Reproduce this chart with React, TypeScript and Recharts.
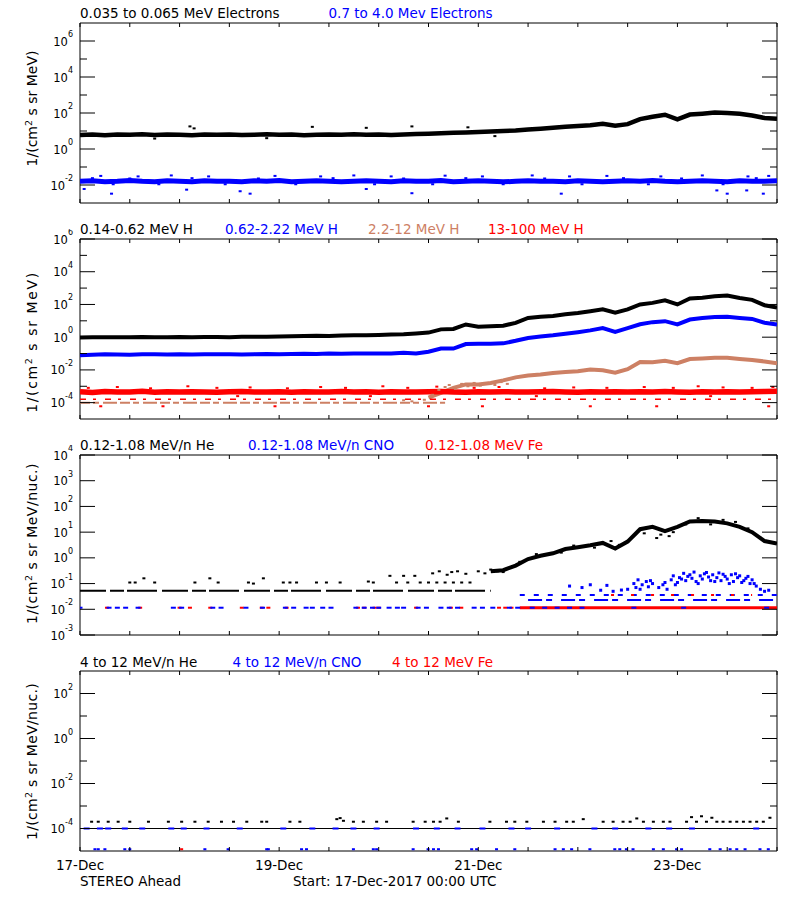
import React from 'react';
import { ComposedChart, Line, Scatter, XAxis, YAxis, ReferenceArea } from 'recharts';

const FONT = '"DejaVu Sans", sans-serif';
const BLUE = '#0000ff';
const RED = '#ff0000';
const BROWN = '#cd8064';

// hours since 17-Dec-2017 00:00 UTC, 3 h grid
const HOURS = [0, 3, 6, 9, 12, 15, 18, 21, 24, 27, 30, 33, 36, 39, 42, 45, 48, 51, 54, 57, 60, 63, 66, 69, 72, 75, 78, 81, 84, 87, 90, 93, 96, 99, 102, 105, 108, 111, 114, 117, 120, 123, 126, 129, 132, 135, 138, 141, 144, 147, 150, 153, 156, 159, 162, 165, 168];
const X_TICKS = [0, 12, 24, 36, 48, 60, 72, 84, 96, 108, 120, 132, 144, 156, 168];
const DATE_TICKS = [0, 48, 96, 144];
const DATE_LABELS = ['17-Dec', '19-Dec', '21-Dec', '23-Dec'];

// panel 1: electrons
const E_LOW = [6.0, 6.4, 5.9, 6.3, 6.1, 6.5, 6.0, 6.3, 6.2, 5.9, 6.4, 6.1, 6.3, 6.0, 6.2, 6.5, 6.1, 6.3, 5.9, 6.2, 6.4, 6.1, 6.5, 6.2, 6.3, 6.0, 6.4, 6.8, 7.1, 7.4, 7.9, 8.3, 8.8, 9.3, 10, 10.7, 12.2, 13.5, 15, 17, 19, 21, 25, 19.5, 24, 46, 62, 80, 45, 82, 92, 105, 100, 90, 72, 53, 48];
const E_LOW_DOTS = [[26.5, 18], [27.5, 14], [56, 17], [69, 15], [80, 18], [93.5, 16], [18, 3.8], [45, 4], [100, 5.2]];
const E_HIGH = [0.016, 0.017, 0.015, 0.016, 0.018, 0.016, 0.015, 0.017, 0.016, 0.015, 0.017, 0.016, 0.016, 0.015, 0.017, 0.016, 0.018, 0.015, 0.016, 0.017, 0.016, 0.015, 0.016, 0.017, 0.016, 0.015, 0.017, 0.016, 0.016, 0.018, 0.015, 0.016, 0.017, 0.016, 0.015, 0.016, 0.017, 0.016, 0.016, 0.015, 0.017, 0.016, 0.015, 0.016, 0.017, 0.016, 0.018, 0.016, 0.015, 0.016, 0.017, 0.016, 0.015, 0.017, 0.016, 0.016, 0.017];
const E_HIGH_DOTS = [[1, 0.006], [5, 0.032], [7.6, 0.0033], [14, 0.03], [22, 0.034], [25.7, 0.0055], [31, 0.03], [38.6, 0.0045], [41, 0.0033], [47, 0.032], [58, 0.03], [66, 0.034], [69, 0.006], [75, 0.03], [80, 0.0035], [88, 0.033], [97, 0.03], [109, 0.034], [116, 0.0033], [118, 0.03], [127, 0.032], [140, 0.03], [150, 0.034], [153.5, 0.005], [156, 0.0033], [160.7, 0.005], [161, 0.03], [164.7, 0.0033], [166, 0.032],
  [3, 0.024], [8, 0.011], [12, 0.023], [19, 0.011], [27, 0.024], [35, 0.011], [43, 0.023], [52, 0.011], [61, 0.024], [71, 0.011], [78, 0.023], [85, 0.011], [93, 0.024], [102, 0.011], [112, 0.023], [121, 0.011], [131, 0.024], [137, 0.011], [145, 0.023], [155, 0.011], [163, 0.024]];

// panel 2: protons
const H_LOW = [0.95, 1.0, 1.0, 0.98, 1.0, 1.03, 1.0, 0.98, 1.02, 1.0, 1.04, 1.02, 1.0, 1.05, 1.08, 1.05, 1.1, 1.15, 1.18, 1.22, 1.2, 1.25, 1.3, 1.3, 1.35, 1.45, 1.5, 1.7, 1.9, 3.0, 3.2, 6.0, 4.4, 4.7, 5.0, 7.5, 15, 18, 20, 25, 30, 38, 50, 31, 50, 100, 125, 180, 100, 230, 260, 320, 350, 250, 190, 90, 65];
const H_MID = [0.08, 0.085, 0.09, 0.088, 0.085, 0.09, 0.092, 0.088, 0.09, 0.087, 0.09, 0.092, 0.09, 0.088, 0.092, 0.095, 0.09, 0.095, 0.098, 0.095, 0.1, 0.098, 0.1, 0.1, 0.1, 0.1, 0.11, 0.1, 0.13, 0.2, 0.2, 0.38, 0.4, 0.4, 0.42, 0.6, 0.9, 1.1, 1.3, 1.6, 2.0, 2.6, 3.6, 2.1, 3.6, 6.2, 8.3, 9.5, 6.0, 12, 15, 17, 17.5, 15, 13, 7.6, 6.0];
const H_HIGH = [2e-4, 4e-4, 8e-4, 1.3e-3, 1.3e-3, 1.6e-3, 2.3e-3, 3.5e-3, 4.5e-3, 5.2e-3, 6.5e-3, 7.5e-3, 8.3e-3, 0.0105, 0.0095, 0.0068, 0.011, 0.03, 0.029, 0.036, 0.026, 0.046, 0.05, 0.055, 0.055, 0.046, 0.04, 0.033, 0.025];
const H_HIGH_FLOOR = 1e-4;
const H_HIGH_DOTS = [[78, 1.4e-4], [80, 1.2e-4], [83, 1.5e-4], [85, 3e-4], [86.5, 6e-4], [88, 9e-4], [89, 1.2e-3], [90.5, 7e-4], [92, 1.4e-3], [93.5, 1e-3], [95, 1.6e-3], [96.5, 1.1e-3], [98, 1.5e-3], [100, 1.2e-3], [101.5, 1.8e-3], [103, 1.4e-3]];
const H_TOP = [4.6e-4, 4.2e-4, 4.8e-4, 4.4e-4, 4.5e-4, 4.9e-4, 4.3e-4, 4.6e-4, 4.4e-4, 4.7e-4, 4.5e-4, 4.3e-4, 4.6e-4, 4.8e-4, 4.4e-4, 4.5e-4, 4.7e-4, 4.3e-4, 4.6e-4, 4.4e-4, 4.5e-4, 4.8e-4, 4.4e-4, 4.6e-4, 4.3e-4, 4.7e-4, 4.5e-4, 4.4e-4, 4.6e-4, 4.8e-4, 4.5e-4, 4.3e-4, 4.6e-4, 4.4e-4, 4.7e-4, 4.5e-4, 4.4e-4, 4.6e-4, 4.8e-4, 4.5e-4, 4.3e-4, 4.6e-4, 4.4e-4, 4.7e-4, 4.5e-4, 4.6e-4, 4.4e-4, 4.8e-4, 4.5e-4, 4.3e-4, 4.6e-4, 4.4e-4, 4.7e-4, 4.5e-4, 4.6e-4, 4.8e-4, 5.0e-4];
const H_TOP_FLOOR = 1.6e-4;
const H_TOP_DOTS = [[2, 8e-4], [9, 9e-4], [17, 7.5e-4], [26, 1e-3], [33, 8e-4], [41, 8.5e-4], [50, 7.5e-4], [58, 9e-4], [64, 8e-4], [73, 1e-3], [79, 8e-4], [86, 9.5e-4], [95, 8e-4], [101, 9e-4], [112, 7.5e-4], [119, 8.5e-4], [127, 8e-4], [136, 9e-4], [143, 8e-4], [149, 1e-3], [155, 8.5e-4], [162, 8e-4], [167, 9e-4], [5, 6e-5], [20, 6e-5], [38, 2.5e-4], [47, 6e-5], [70, 2.5e-4], [84, 6e-5], [97, 6e-5], [110, 2.5e-4], [123, 6e-5], [139, 6e-5], [152, 2.5e-4], [166, 6e-5]];

// panel 3: 0.12-1.08 MeV/n ions
const HE = [0.3, 0.33, 0.5, 0.9, 1.2, 1.5, 2.2, 2.6, 3.1, 3.8, 2.3, 4.3, 13, 16, 11, 16, 26, 27, 26, 22, 16, 10, 4.5, 3.6];
const HE_FLOOR = 0.053;
const HE_DOTS = [[12, 0.11], [13.3, 0.11], [15.4, 0.16], [18, 0.11], [27.7, 0.11], [31.3, 0.16], [33.3, 0.11], [40.6, 0.11], [41.8, 0.1], [44.2, 0.16], [49, 0.11], [50.6, 0.11], [52.2, 0.11], [57, 0.11], [59.4, 0.11], [62.7, 0.11], [69.5, 0.12], [70.7, 0.11], [74.7, 0.2], [76.3, 0.11], [78, 0.2], [80.7, 0.2], [79, 0.11], [82, 0.11], [84, 0.11], [86, 0.11], [88, 0.11], [90, 0.11], [92, 0.11], [94, 0.11], [85, 0.25], [86.6, 0.3], [88.5, 0.22], [89.6, 0.28], [91, 0.3], [93, 0.24], [96, 0.3], [97.6, 0.25], [99, 0.35], [100.6, 0.3], [102, 0.28], [106, 0.7], [110, 1.4], [116, 1.6], [119, 3], [124, 2.5], [128, 4.5], [130, 3.2], [136, 9], [139, 5.9], [140, 8], [142, 7], [143, 10], [146, 20], [149, 35], [152, 20], [155, 30], [158, 25], [161, 14], [164, 6]];
const ION_FLOOR = 0.0115;
const CNO_FLOOR_HOURS = [0, 7, 9, 11, 14, 22.5, 24.5, 32, 34, 40, 44, 49.5, 51.5, 54.5, 56, 58.5, 60.5, 66.5, 68.5, 70.5, 72, 74.5, 76.5, 78, 81.5, 83.5, 87, 89, 91, 95, 97, 99.5, 103.5, 105.5, 109, 112, 115, 118, 121, 133.5, 145.5, 165.5];
const FE_FLOOR_HOURS = [6.5, 14.5, 24, 26.5, 31.4, 39, 43.8, 45.4, 49.8, 67, 68.5, 71, 72, 81, 89.4, 91.9, 101, 102.5, 104];
const CNO_STEP_A = 0.023;
const CNO_STEP_B = 0.036;
const CNO_CLOUD = [[125.5, 0.055], [127, 0.085], [128.5, 0.05], [130.5, 0.056], [132, 0.06], [133.5, 0.1], [134, 0.07], [134.5, 0.14], [135.5, 0.09], [136.5, 0.12], [137, 0.075], [138, 0.1], [139.5, 0.07], [140.5, 0.09], [141.5, 0.06], [142.5, 0.14], [143, 0.2], [144, 0.11], [144.5, 0.17], [145.5, 0.25], [146, 0.13], [146.5, 0.19], [147.5, 0.16], [148, 0.28], [148.5, 0.12], [149.5, 0.2], [150, 0.15], [150.5, 0.24], [151.5, 0.18], [152, 0.13], [152.5, 0.22], [153.5, 0.17], [154, 0.26], [154.5, 0.13], [155.5, 0.19], [156, 0.15], [157, 0.22], [157.5, 0.12], [158.5, 0.17], [159, 0.2], [160, 0.13], [160.5, 0.16], [161.5, 0.1], [162, 0.14], [163, 0.08], [164, 0.06], [165, 0.05], [166, 0.055], [118, 0.08], [121, 0.07], [123, 0.09],
  [135, 0.06], [137.5, 0.13], [141, 0.11], [143.5, 0.09], [145, 0.15], [147, 0.22], [149, 0.1], [151, 0.27], [153, 0.12], [155, 0.23], [156.5, 0.1], [158, 0.24], [159.5, 0.11], [161, 0.19], [162.5, 0.1]];

// panel 4: 4-12 MeV/n ions
const HE4_FLOOR = 1e-4;
const HE4_DOTS = [[2.8, 2e-4], [4.4, 2e-4], [6.8, 2e-4], [9.2, 2e-4], [12, 2e-4], [16.5, 2e-4], [21.3, 2e-4], [24.5, 2e-4], [27.7, 2e-4], [30.9, 2e-4], [34.1, 2e-4], [37, 2e-4], [40.2, 2e-4], [43.8, 2e-4], [45, 2e-4], [50.6, 2e-4], [53, 2e-4], [61.9, 2.6e-4], [62.7, 2.9e-4], [63.5, 2.2e-4], [65.9, 2e-4], [68.3, 2e-4], [71.5, 2e-4], [73.9, 2e-4], [80.3, 2e-4], [83.2, 2e-4], [85.2, 2e-4], [86.8, 2e-4], [88.4, 2.8e-4], [91.2, 2e-4], [98.8, 2e-4], [102.8, 2e-4], [104.8, 2e-4], [107.7, 2e-4], [111.7, 2e-4], [114.5, 2e-4], [117.3, 2e-4], [118.9, 2e-4], [121.3, 2.6e-4], [126.1, 2e-4], [128.5, 2e-4], [130.9, 2e-4], [132.6, 2e-4], [134.2, 2.8e-4], [135.8, 2e-4], [138.2, 2e-4], [140.6, 2e-4], [142.2, 2e-4], [146.2, 2e-4], [147.4, 3.2e-4], [148.6, 2e-4], [149.8, 3.5e-4], [151, 2e-4], [152.3, 3e-4], [153.5, 2e-4], [155, 2e-4], [156.7, 2e-4], [158.3, 2e-4], [159.9, 2e-4], [161.5, 2e-4], [163.1, 2e-4], [164.7, 2e-4], [166.3, 3e-4]];
const CNO4_FLOOR_HOURS = [1.6, 4.8, 6.8, 10.8, 15, 22, 25, 30.5, 38.5, 49, 56, 61.6, 65.9, 71.5, 81, 86, 91, 97, 104, 108, 115, 124, 129, 137, 142, 147.5, 163];
const CNO4_LOW = 1.2e-5;
const CNO4_LOW_HOURS = [3.6, 4.4, 6, 10.8, 12, 30.1, 35.7, 45, 45.4, 53.4, 54.6, 65.9, 70.7, 71.5, 80.3, 83.9, 85.2, 86.4, 94.4, 95.6, 100.4, 104.8, 114.5, 116.5, 118.5, 122.9, 128.9, 130.1, 131.7, 133.3, 138.2, 140.6, 143.8, 145, 151.8, 154.3, 156.7, 158.3, 160.3, 163.9, 165.9];
const FE4_HOURS = [24.5];

const P1_TICKS = [1e-2, 1e-1, 1, 10, 100, 1e3, 1e4, 1e5, 1e6];
const P1_MAJOR = [1e-2, 1, 100, 1e4, 1e6];
const P2_TICKS = [1e-4, 1e-3, 1e-2, 1e-1, 1, 10, 100, 1e3, 1e4, 1e5, 1e6];
const P2_MAJOR = [1e-4, 1e-2, 1, 100, 1e4, 1e6];
const P3_TICKS = [1e-3, 1e-2, 1e-1, 1, 10, 100, 1e3, 1e4];
const P4_TICKS = [1e-4, 1e-3, 1e-2, 1e-1, 1, 10, 100];
const P4_MAJOR = [1e-4, 1e-2, 1, 100];

const PL = 80, PR = 777, PT = 10, PB = 190;

const rows = (hours: number[], vals: number[]) => vals.map((v, i) => ({ h: hours[i], v }));
const tail = (vals: number[]) => rows(HOURS.slice(HOURS.length - vals.length), vals);
const pts = (pairs: number[][]) => pairs.map(([h, v]) => ({ h, v }));
const flat = (hours: number[], v: number) => hours.map((h) => ({ h, v }));
const seg = (h0: number, h1: number, v: number) => [{ h: h0, v }, { h: h1, v }];

const box = (w: number, hh: number) => (p: any) =>
  p.cx == null ? <g /> : <rect x={p.cx - w / 2} y={p.cy - hh / 2} width={w} height={hh} fill={p.fill} />;

const yTick = (majors: number[]) => (props: any) => {
  const { y, payload } = props;
  const v = payload.value;
  const major = majors.includes(v);
  const len = major ? 15 : 7;
  const exp = Math.round(Math.log10(v));
  return (
    <g>
      <line x1={PL} x2={PL + len} y1={y} y2={y} stroke="#000" />
      <line x1={PR - len} x2={PR} y1={y} y2={y} stroke="#000" />
      {major && (
        <text x={73} y={y + 4.5} textAnchor="end" fontFamily={FONT} fontSize={11.5} fill="#000">
          10<tspan dy={-8.5} fontSize={8}>{String(exp)}</tspan>
        </text>
      )}
    </g>
  );
};

const xTick = (dates: boolean) => (props: any) => {
  const { x, payload } = props;
  const idx = DATE_TICKS.indexOf(payload.value);
  return (
    <g>
      <line x1={x} x2={x} y1={PB} y2={PB - 4} stroke="#000" />
      <line x1={x} x2={x} y1={PT} y2={PT + 4} stroke="#000" />
      {dates && idx >= 0 && (
        <text x={x} y={PB + 19} textAnchor="middle" fontFamily={FONT} fontSize={13.5} fill="#000">
          {DATE_LABELS[idx]}
        </text>
      )}
    </g>
  );
};

const line = (data: any[], color: string, width: number, dash?: string) => (
  <Line data={data} dataKey="v" stroke={color} strokeWidth={width} strokeDasharray={dash} dot={false} activeDot={false} isAnimationActive={false} connectNulls={false} />
);
const dots = (data: any[], color: string, w: number, hh: number) => (
  <Scatter data={data} dataKey="v" fill={color} shape={box(w, hh)} isAnimationActive={false} />
);

type PanelProps = { top: number; domain: [number, number]; ticks: number[]; majors: number[]; dates?: boolean; children: React.ReactNode };

const Panel = ({ top, domain, ticks, majors, dates, children }: PanelProps) => {
  const height = dates ? 240 : 200;
  return (
    <div style={{ position: 'absolute', left: 0, top: top - PT }}>
      <ComposedChart width={800} height={height} margin={{ top: PT, right: 800 - PR, bottom: 0, left: 20 }}>
        <XAxis type="number" dataKey="h" domain={[0, 168]} ticks={X_TICKS} interval={0} allowDataOverflow
          height={height - PB} tickLine={false} axisLine={false} tick={xTick(!!dates)} />
        <YAxis type="number" scale="log" domain={domain} ticks={ticks} interval={0} allowDataOverflow
          width={60} tickLine={false} axisLine={false} tick={yTick(majors)} />
        {children}
        <ReferenceArea x1={0} x2={168} y1={domain[0]} y2={domain[1]} fill="none" stroke="#000" strokeWidth={1} ifOverflow="visible" />
      </ComposedChart>
    </div>
  );
};

const T = ({ x, y, c, children }: { x: number; y: number; c?: string; children: React.ReactNode }) => (
  <text x={x} y={y} fill={c || '#000'} fontFamily={FONT} fontSize={13.5}>{children}</text>
);

const YLabel = ({ cy, nuc, spacing }: { cy: number; nuc?: boolean; spacing: number }) => (
  <text x={37} y={cy} transform={`rotate(-90 37 ${cy})`} textAnchor="middle" fontFamily={FONT} fontSize={14} letterSpacing={spacing} fill="#000">
    1/(cm<tspan dy={-5} fontSize={9.5}>2</tspan><tspan dy={5}>{nuc ? ' s sr MeV/nuc.)' : ' s sr MeV)'}</tspan>
  </text>
);

export default function App() {
  return (
    <div style={{ position: 'absolute', left: 0, top: 0, width: 800, height: 900, background: '#fff' }}>
      <Panel top={23} domain={[1e-3, 1e7]} ticks={P1_TICKS} majors={P1_MAJOR}>
        {line(rows(HOURS, E_HIGH), BLUE, 5)}
        {dots(pts(E_HIGH_DOTS), BLUE, 3, 2)}
        {line(rows(HOURS, E_LOW), '#000', 4.5)}
        {dots(pts(E_LOW_DOTS), '#000', 3, 2)}
      </Panel>
      <Panel top={239} domain={[1e-5, 1e6]} ticks={P2_TICKS} majors={P2_MAJOR}>
        {line(seg(0, 88, H_HIGH_FLOOR), BROWN, 2, '10 3 6 4 14 3')}
        {dots(pts(H_HIGH_DOTS), BROWN, 3, 2)}
        {line(tail(H_HIGH), BROWN, 4)}
        {line(seg(0, 168, H_TOP_FLOOR), RED, 1.5, '6 7 3 9')}
        {line(rows(HOURS, H_TOP), RED, 5.5)}
        {dots(pts(H_TOP_DOTS), RED, 3, 2)}
        {line(rows(HOURS, H_MID), BLUE, 4)}
        {line(rows(HOURS, H_LOW), '#000', 4)}
      </Panel>
      <Panel top={455} domain={[1e-3, 1e4]} ticks={P3_TICKS} majors={P3_TICKS}>
        {line(seg(106, 168, ION_FLOOR), RED, 3)}
        {dots(flat(FE_FLOOR_HOURS, ION_FLOOR), RED, 4, 2)}
        {dots(flat(CNO_FLOOR_HOURS, ION_FLOOR), BLUE, 5, 2)}
        {line(seg(108, 168, CNO_STEP_A), BLUE, 2, '14 4 6 9')}
        {line(seg(106, 168, CNO_STEP_B), BLUE, 2, '5 9')}
        {line(seg(128, 162, CNO_STEP_B), RED, 2, '3 17')}
        {dots(pts(CNO_CLOUD), BLUE, 3, 3)}
        {line(seg(0, 99, HE_FLOOR), '#000', 2, '26 4 14 3 30 5')}
        {dots(pts(HE_DOTS), '#000', 3, 2)}
        {line(tail(HE), '#000', 4)}
      </Panel>
      <Panel top={671} domain={[1e-5, 1e3]} ticks={P4_TICKS} majors={P4_MAJOR} dates>
        {line(seg(0, 168, HE4_FLOOR), '#000', 1)}
        {dots(flat(CNO4_FLOOR_HOURS, HE4_FLOOR), BLUE, 6, 2)}
        {dots(flat(CNO4_LOW_HOURS, CNO4_LOW), BLUE, 3, 2)}
        {dots(flat(FE4_HOURS, CNO4_LOW), RED, 3, 2)}
        {dots(pts(HE4_DOTS), '#000', 3, 2)}
      </Panel>
      <svg width={800} height={900} style={{ position: 'absolute', left: 0, top: 0, pointerEvents: 'none' }}>
        <T x={80} y={18}>0.035 to 0.065 MeV Electrons</T>
        <T x={328.5} y={18} c={BLUE}>0.7 to 4.0 Mev Electrons</T>
        <T x={80} y={234}>0.14-0.62 MeV H</T>
        <T x={225} y={234} c={BLUE}>0.62-2.22 MeV H</T>
        <T x={368} y={234} c={BROWN}>2.2-12 MeV H</T>
        <T x={488} y={234} c={RED}>13-100 MeV H</T>
        <T x={80} y={450}>0.12-1.08 MeV/n He</T>
        <T x={248} y={450} c={BLUE}>0.12-1.08 MeV/n CNO</T>
        <T x={425} y={450} c={RED}>0.12-1.08 MeV Fe</T>
        <T x={80} y={666.5}>4 to 12 MeV/n He</T>
        <T x={232.5} y={666.5} c={BLUE}>4 to 12 MeV/n CNO</T>
        <T x={392} y={666.5} c={RED}>4 to 12 MeV Fe</T>
        <T x={80} y={886}>STEREO Ahead</T>
        <T x={293} y={886}>Start: 17-Dec-2017 00:00 UTC</T>
        <YLabel cy={108.5} spacing={0} />
        <YLabel cy={342} spacing={1.6} />
        <YLabel cy={543.5} nuc spacing={0.5} />
        <YLabel cy={761.5} nuc spacing={0.3} />
      </svg>
    </div>
  );
}
